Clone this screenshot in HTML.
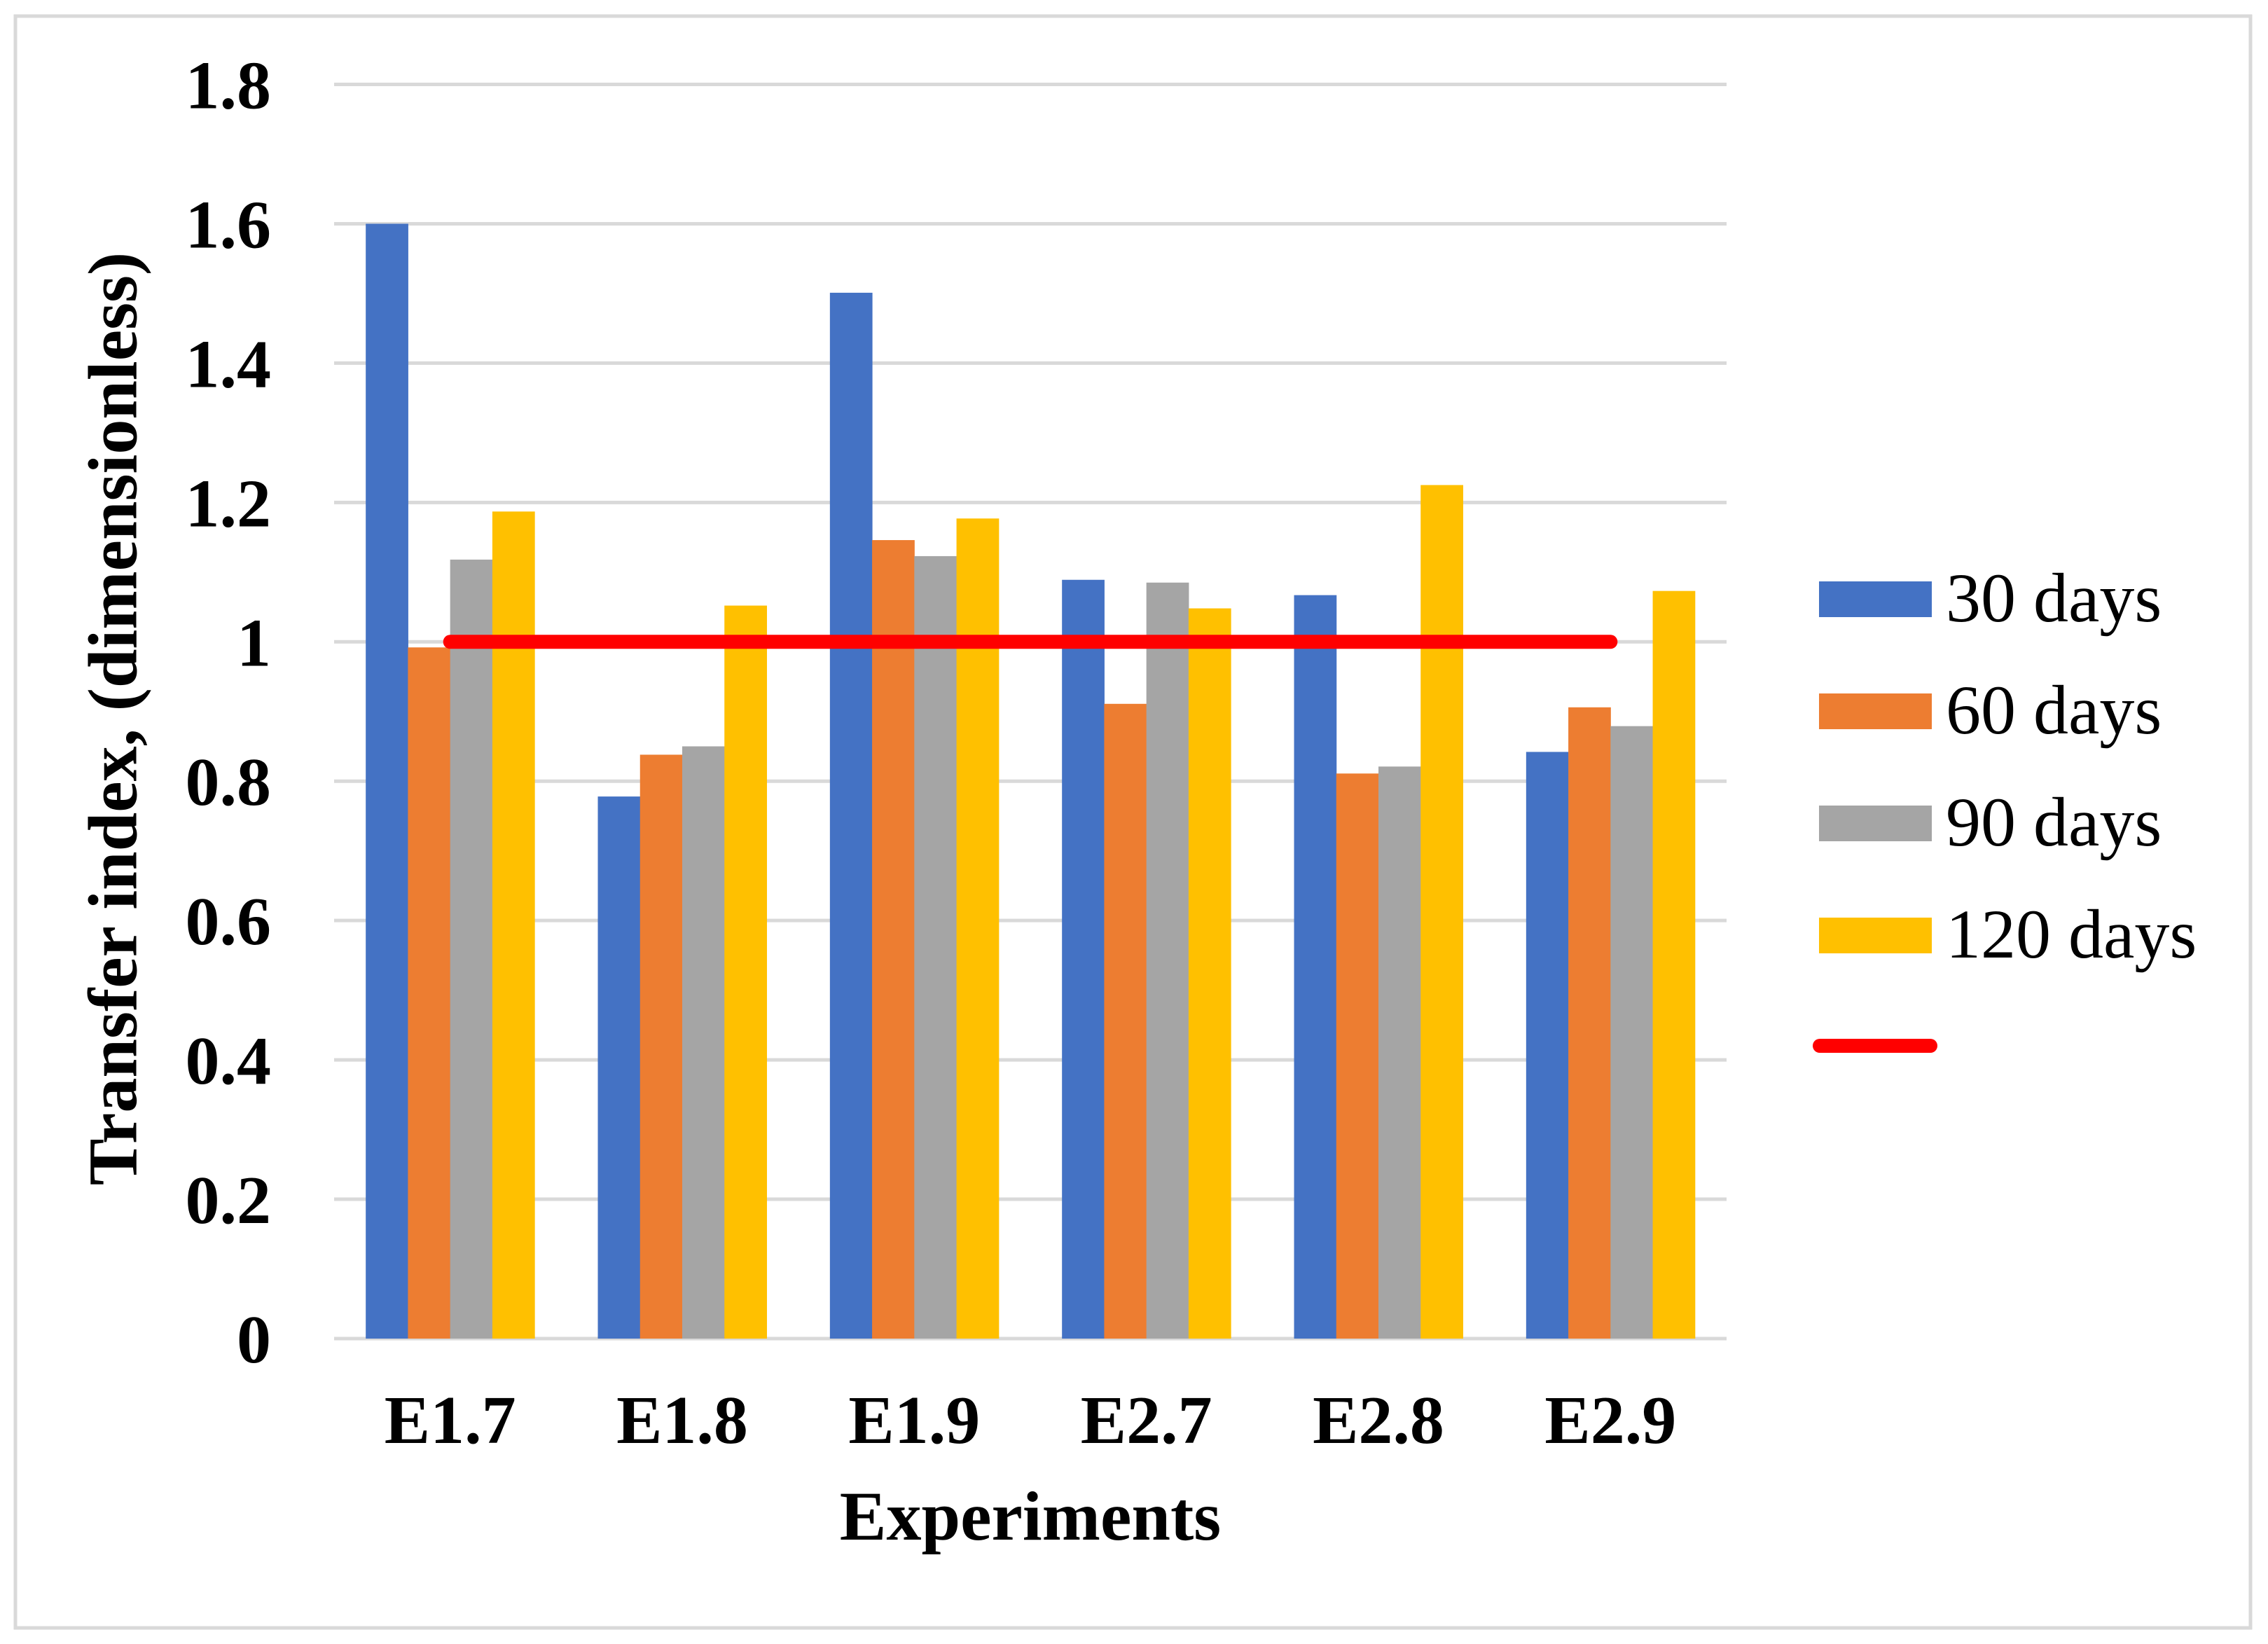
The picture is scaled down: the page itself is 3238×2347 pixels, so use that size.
<!DOCTYPE html>
<html><head><meta charset="utf-8"><style>
html,body{margin:0;padding:0;background:#fff}
svg{display:block}
text{font-family:"Liberation Serif","Times New Roman",serif}
</style></head><body>
<svg id="chart" width="3238" height="2347" viewBox="0 0 3238 2347" xmlns="http://www.w3.org/2000/svg">
<rect x="22" y="23" width="3191" height="2301" fill="#fff" stroke="#d9d9d9" stroke-width="5"/>
<g id="grid"></g>
<g id="bars"></g>
<g id="ref"></g>
<g id="yticks"></g>
<g id="xticks"></g>
<text x="161" y="1026" transform="rotate(-90 161 1026)" text-anchor="middle" dominant-baseline="central" font-size="100" font-weight="bold">Transfer index, (dimensionless)</text>
<text x="1471" y="2198" text-anchor="middle" font-size="100" font-weight="bold">Experiments</text>
<g id="legend"></g>
</svg>
<script>
const categories = ["E1.7","E1.8","E1.9","E2.7","E2.8","E2.9"];
const seriesNames = ["30 days","60 days","90 days","120 days"];
const s30 = [1.600,0.778,1.501,1.089,1.067,0.842];
const s60 = [0.992,0.838,1.146,0.911,0.811,0.906];
const s90 = [1.118,0.850,1.123,1.085,0.821,0.879];
const s120 = [1.187,1.052,1.177,1.048,1.225,1.073];
const refValue = 1.0;
const yTicks = [0,0.2,0.4,0.6,0.8,1,1.2,1.4,1.6,1.8];
const yTickLabels = ["0","0.2","0.4","0.6","0.8","1","1.2","1.4","1.6","1.8"];
const colors = ["#4472c4","#ed7d31","#a5a5a5","#ffc000"];

const NS="http://www.w3.org/2000/svg";
const plotL=477, plotR=2465, y0=1911, yTop=120.5, yMax=1.8;
const yScale=v=>y0-(v/yMax)*(y0-yTop);
const catW=(plotR-plotL)/categories.length;
const barW=catW/5.5;
const xCat=i=>plotL+i*catW;
const xCenter=i=>xCat(i)+catW/2;
function mk(tag,attrs,parent){const e=document.createElementNS(NS,tag);for(const k in attrs)e.setAttribute(k,attrs[k]);parent.appendChild(e);return e;}

const grid=document.getElementById('grid');
yTicks.forEach((t,i)=>{
  const l=mk('line',{x1:plotL,x2:plotR,y1:yScale(t),y2:yScale(t),stroke:'#d9d9d9','stroke-width':5},grid);
  
  
  const tx=mk('text',{x:387,y:yScale(t)+34,'text-anchor':'end','font-size':98,'font-weight':'bold'},document.getElementById('yticks'));
  tx.textContent=yTickLabels[i];
  
  
});

const series=[s30,s60,s90,s120];
const bars=document.getElementById('bars');
series.forEach((s,si)=>{
  s.forEach((v,ci)=>{
    const x=xCat(ci)+barW*0.75+si*barW;
    const r=mk('rect',{x:x,y:yScale(v),width:barW+0.5,height:y0-yScale(v),fill:colors[si]},bars);
    
    
  });
});

categories.forEach((c,i)=>{
  const t=mk('text',{x:xCenter(i),y:2060,'text-anchor':'middle','font-size':98,'font-weight':'bold'},document.getElementById('xticks'));
  t.textContent=c;
  
  
});

const rl=mk('line',{x1:xCenter(0),x2:xCenter(categories.length-1),y1:yScale(refValue),y2:yScale(refValue),stroke:'#ff0000','stroke-width':20,'stroke-linecap':'round'},document.getElementById('ref'));



const lg=document.getElementById('legend');
seriesNames.forEach((n,i)=>{
  const y=830+i*160;
  const r=mk('rect',{x:2597,y:y,width:161,height:51,fill:colors[i]},lg);
  
  
  const t=mk('text',{x:2778,y:y+57,'font-size':100},lg);
  t.textContent=n;
  
  
});
const ll=mk('line',{x1:2598,x2:2756,y1:1493,y2:1493,stroke:'#ff0000','stroke-width':20,'stroke-linecap':'round'},lg);


</script>
</body></html>
